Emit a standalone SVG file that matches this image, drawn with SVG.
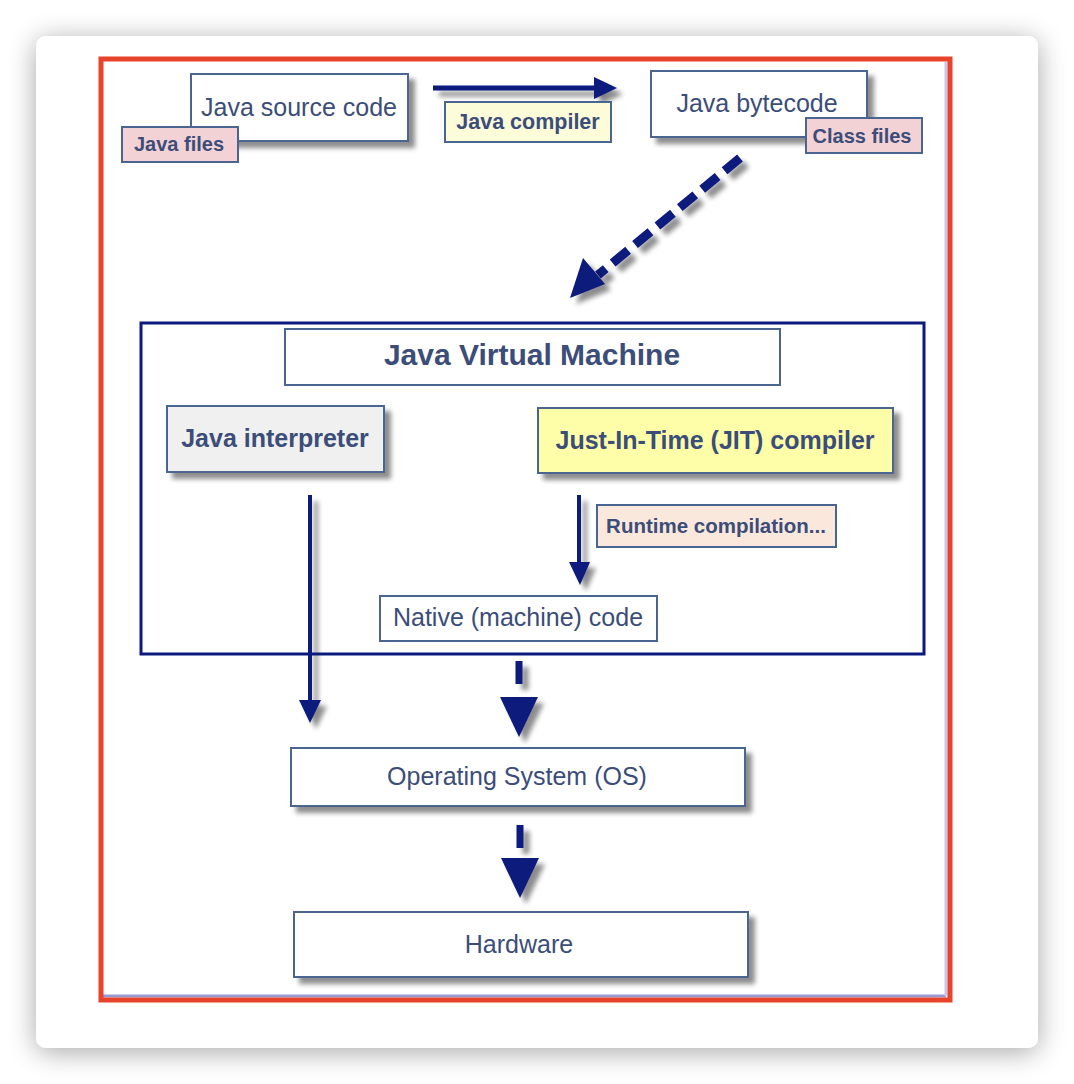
<svg xmlns="http://www.w3.org/2000/svg" width="1074" height="1084" viewBox="0 0 1074 1084">
<defs>
<filter id="card" x="-10%" y="-10%" width="120%" height="120%">
<feGaussianBlur in="SourceAlpha" stdDeviation="14"/>
<feOffset dx="0" dy="4"/>
<feComponentTransfer><feFuncA type="linear" slope="0.35"/></feComponentTransfer>
<feMerge><feMergeNode/><feMergeNode in="SourceGraphic"/></feMerge>
</filter>
<filter id="sh" filterUnits="userSpaceOnUse" x="0" y="0" width="1074" height="1084">
<feGaussianBlur in="SourceAlpha" stdDeviation="2.5"/>
<feOffset dx="6" dy="6"/>
<feComponentTransfer><feFuncA type="linear" slope="0.45"/></feComponentTransfer>
<feMerge><feMergeNode/><feMergeNode in="SourceGraphic"/></feMerge>
</filter>
<style>
.box{fill:#fff;stroke:#4a6590;stroke-width:2}
.t{font-family:"Liberation Sans",Arial,sans-serif;fill:#3b4d78;text-anchor:middle}
.b{font-weight:bold}
.lab{stroke:#4a6590;stroke-width:2}
.ar{stroke:#0b1a7c;fill:none}
.hd{fill:#0b1a7c}
</style>
</defs>
<rect width="1074" height="1084" fill="#ffffff"/>
<rect x="36" y="36" width="1002" height="1012" rx="10" fill="#ffffff" filter="url(#card)"/>
<line x1="102" y1="996" x2="946" y2="996" stroke="#9a9ad0" stroke-width="3"/>
<line x1="946" y1="62" x2="946" y2="996" stroke="#c8c8e8" stroke-width="3"/>
<rect x="101" y="59" width="849" height="941" fill="none" stroke="#e8432b" stroke-width="5"/>

<g id="connectors">
<line class="ar" x1="433" y1="88" x2="598" y2="88" stroke-width="5" filter="url(#sh)"/>
<path class="hd" d="M594,77 L617,88 L594,99 Z" filter="url(#sh)"/>
<line class="ar" x1="740" y1="158" x2="598" y2="275" stroke-width="9" stroke-dasharray="20,9" filter="url(#sh)"/>
<path class="hd" d="M570,298 L583,258 L605,284 Z" filter="url(#sh)"/>
<line class="ar" x1="310" y1="495" x2="310" y2="702" stroke-width="4" filter="url(#sh)"/>
<path class="hd" d="M299,700 L321,700 L310,723 Z" filter="url(#sh)"/>
<line class="ar" x1="579" y1="495" x2="579" y2="565" stroke-width="4" filter="url(#sh)"/>
<path class="hd" d="M569,562 L590,562 L580,585 Z" filter="url(#sh)"/>
<line class="ar" x1="519" y1="661" x2="519" y2="684" stroke-width="7" filter="url(#sh)"/>
<path class="hd" d="M500,697 L538,697 L519,737 Z" filter="url(#sh)"/>
<line class="ar" x1="520" y1="825" x2="520" y2="848" stroke-width="7" filter="url(#sh)"/>
<path class="hd" d="M501,858 L539,858 L520,898 Z" filter="url(#sh)"/>
</g>

<g id="java-source">
<rect class="box" x="191" y="74" width="217" height="67" filter="url(#sh)"/>
<text class="t" x="299" y="116" font-size="25">Java source code</text>
</g>
<g id="java-files">
<rect class="lab" x="122" y="127" width="116" height="35" fill="#f3d2d6"/>
<text class="t b" x="179" y="151" font-size="20">Java files</text>
</g>
<g id="java-compiler">
<rect class="lab" x="445" y="102" width="166" height="40" fill="#fcfcd8"/>
<text class="t b" x="528" y="129" font-size="21.5">Java compiler</text>
</g>
<g id="java-bytecode">
<rect class="box" x="651" y="71" width="216" height="66" filter="url(#sh)"/>
<text class="t" x="757" y="112" font-size="25">Java bytecode</text>
</g>
<g id="class-files">
<rect class="lab" x="806" y="118" width="116" height="35" fill="#f3d2d6"/>
<text class="t b" x="862" y="143" font-size="20">Class files</text>
</g>

<g id="jvm">
<rect x="141" y="323" width="783" height="331" fill="none" stroke="#0b1a7c" stroke-width="3"/>
</g>
<g id="jvm-title">
<rect class="box" x="285" y="329" width="495" height="56"/>
<text class="t b" x="532" y="365" font-size="30">Java Virtual Machine</text>
</g>
<g id="java-interpreter">
<rect class="box" x="167" y="406" width="217" height="66" style="fill:#f0f0f0" filter="url(#sh)"/>
<text class="t b" x="275" y="447" font-size="25">Java interpreter</text>
</g>
<g id="jit-compiler">
<rect class="box" x="538" y="408" width="355" height="65" style="fill:#fefea8" filter="url(#sh)"/>
<text class="t b" x="715" y="449" font-size="25">Just-In-Time (JIT) compiler</text>
</g>
<g id="runtime-compilation">
<rect class="lab" x="597" y="505" width="239" height="42" fill="#fbe8dc"/>
<text class="t b" x="716" y="533" font-size="20.5">Runtime compilation...</text>
</g>
<g id="native-code">
<rect class="box" x="380" y="596" width="277" height="45"/>
<text class="t" x="518" y="626" font-size="25">Native (machine) code</text>
</g>
<g id="os">
<rect class="box" x="291" y="748" width="454" height="58" filter="url(#sh)"/>
<text class="t" x="517" y="785" font-size="25">Operating System (OS)</text>
</g>
<g id="hardware">
<rect class="box" x="294" y="912" width="454" height="65" filter="url(#sh)"/>
<text class="t" x="519" y="953" font-size="25">Hardware</text>
</g>
</svg>
